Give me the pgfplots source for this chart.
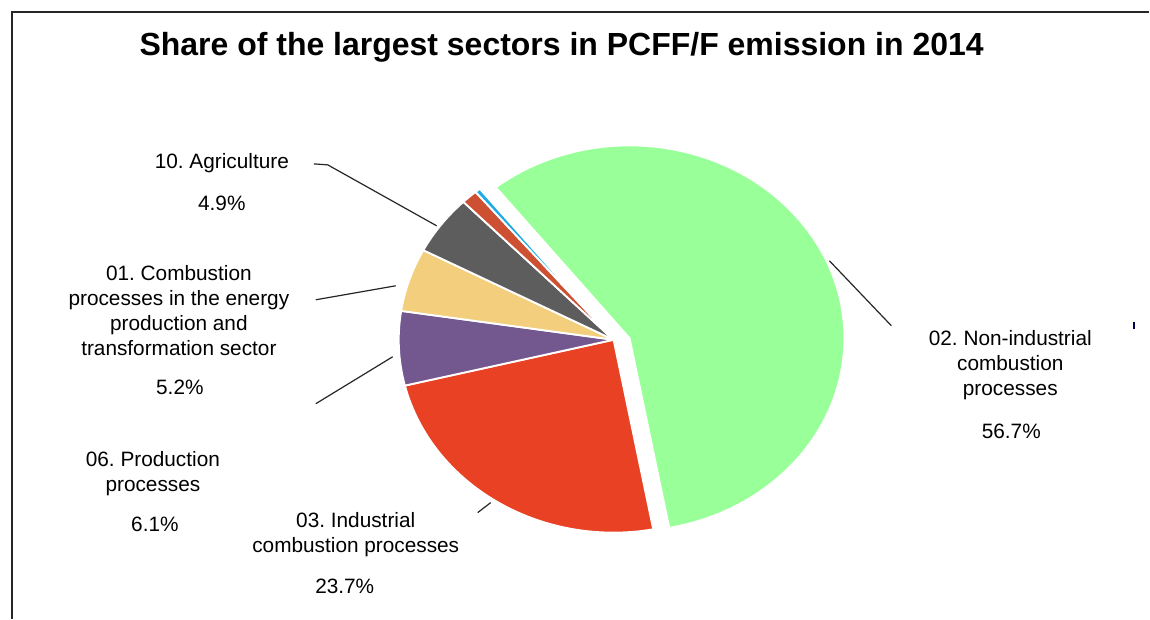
\documentclass[border=0pt]{standalone}
\usepackage{fontspec}
\setmainfont{Liberation Sans}
\usepackage{pgfplots}
\pgfplotsset{compat=1.18}
\usepackage{pgfplotstable}
\frenchspacing

\definecolor{cgreen}{RGB}{153,255,153}
\definecolor{cred}{RGB}{232,65,35}
\definecolor{cpurple}{RGB}{115,87,143}
\definecolor{cyellow}{RGB}{243,207,125}
\definecolor{cgray}{RGB}{93,93,93}
\definecolor{cbrown}{RGB}{205,80,50}
\definecolor{cblue}{RGB}{30,170,230}

% slices, clockwise from the upper-left edge of the green slice
% exdx, exdy: explosion offset in px
\pgfplotstableread{
value color exdx exdy
56.7 cgreen 16 1.5
23.7 cred 0 0
6.1 cpurple 0 0
5.2 cyellow 0 0
4.9 cgray 0 0
1.2 cbrown 0 0
0.4 cblue 0 0
}\piedata

\begin{document}
\begin{tikzpicture}
\def\total{0}
\pgfplotsforeachungrouped \i in {0,...,6}{%
  \pgfplotstablegetelem{\i}{value}\of\piedata
  \pgfmathsetmacro\total{\total+\pgfplotsretval}%
}
\pgfmathsetmacro\degper{360/\total}
\def\cur{128.5}
\pgfplotsforeachungrouped \i in {0,...,6}{%
  \pgfplotstablegetelem{\i}{value}\of\piedata
  \pgfmathsetmacro\sweep{\degper*\pgfplotsretval}%
  \expandafter\xdef\csname sa\i\endcsname{\cur}%
  \pgfmathsetmacro\cur{\cur-\sweep}%
  \expandafter\xdef\csname ea\i\endcsname{\cur}%
  \pgfplotstablegetelem{\i}{color}\of\piedata
  \expandafter\xdef\csname pc\i\endcsname{\pgfplotsretval}%
  \pgfplotstablegetelem{\i}{exdx}\of\piedata
  \expandafter\xdef\csname dx\i\endcsname{\pgfplotsretval}%
  \pgfplotstablegetelem{\i}{exdy}\of\piedata
  \expandafter\xdef\csname dy\i\endcsname{\pgfplotsretval}%
}
\begin{axis}[
  x=0.75pt, y=0.75pt,
  xmin=0, xmax=1150, ymin=0, ymax=619,
  hide axis, clip=false, scale only axis,
]
\path (axis cs:0,0) rectangle (axis cs:1150,619);
% frame
\draw[line width=1.2pt, black!85] (axis cs:12,0) -- (axis cs:12,607) -- (axis cs:1150,607);

% slices
\pgfplotsinvokeforeach{0,...,6}{%
  \edef\doslice{\noexpand\fill[fill=\csname pc#1\endcsname, draw=white, line width=1.4pt, line join=round]
    (axis cs:{614+\csname dx#1\endcsname},{279+\csname dy#1\endcsname})
    -- ++(\csname sa#1\endcsname:161.25pt and 144.75pt)
    arc[start angle=\csname sa#1\endcsname, end angle=\csname ea#1\endcsname, x radius=161.25pt, y radius=144.75pt]
    -- cycle;}%
  \doslice
}

% leader lines
\draw[line width=0.9pt, black!85] (axis cs:314,455) -- (axis cs:328,454) -- (axis cs:437,393);
\draw[line width=0.9pt, black!85] (axis cs:316,319) -- (axis cs:396,333);
\draw[line width=0.9pt, black!85] (axis cs:316,215) -- (axis cs:393,262);
\draw[line width=0.9pt, black!85] (axis cs:478,106) -- (axis cs:491,116);
\draw[line width=0.9pt, black!85] (axis cs:830,358) -- (axis cs:892,293);
\draw[line width=1.2pt, black!70!blue] (axis cs:1135,297) -- (axis cs:1135,290);

% title
\node[font=\fontsize{24}{28}\selectfont\bfseries] at (axis cs:562,572) {Share of the largest sectors in PCFF/F emission in 2014};

% labels
\begin{scope}[every node/.style={font=\fontsize{15.6}{18.75}\selectfont, align=center, inner sep=0pt}]
\node at (axis cs:222,456) {10. Agriculture};
\node at (axis cs:222,416) {4.9\%};
\node at (axis cs:179,308.5) {01. Combustion\\processes in the energy\\production and\\transformation sector};
\node at (axis cs:180,231) {5.2\%};
\node at (axis cs:153,145.5) {06. Production\\processes};
\node at (axis cs:155,94) {6.1\%};
\node at (axis cs:356,84) {03. Industrial\\combustion processes};
\node at (axis cs:345,32) {23.7\%};
\node at (axis cs:1011,254) {02. Non-industrial\\combustion\\processes};
\node at (axis cs:1012,187) {56.7\%};
\end{scope}
\end{axis}
\end{tikzpicture}
\end{document}
